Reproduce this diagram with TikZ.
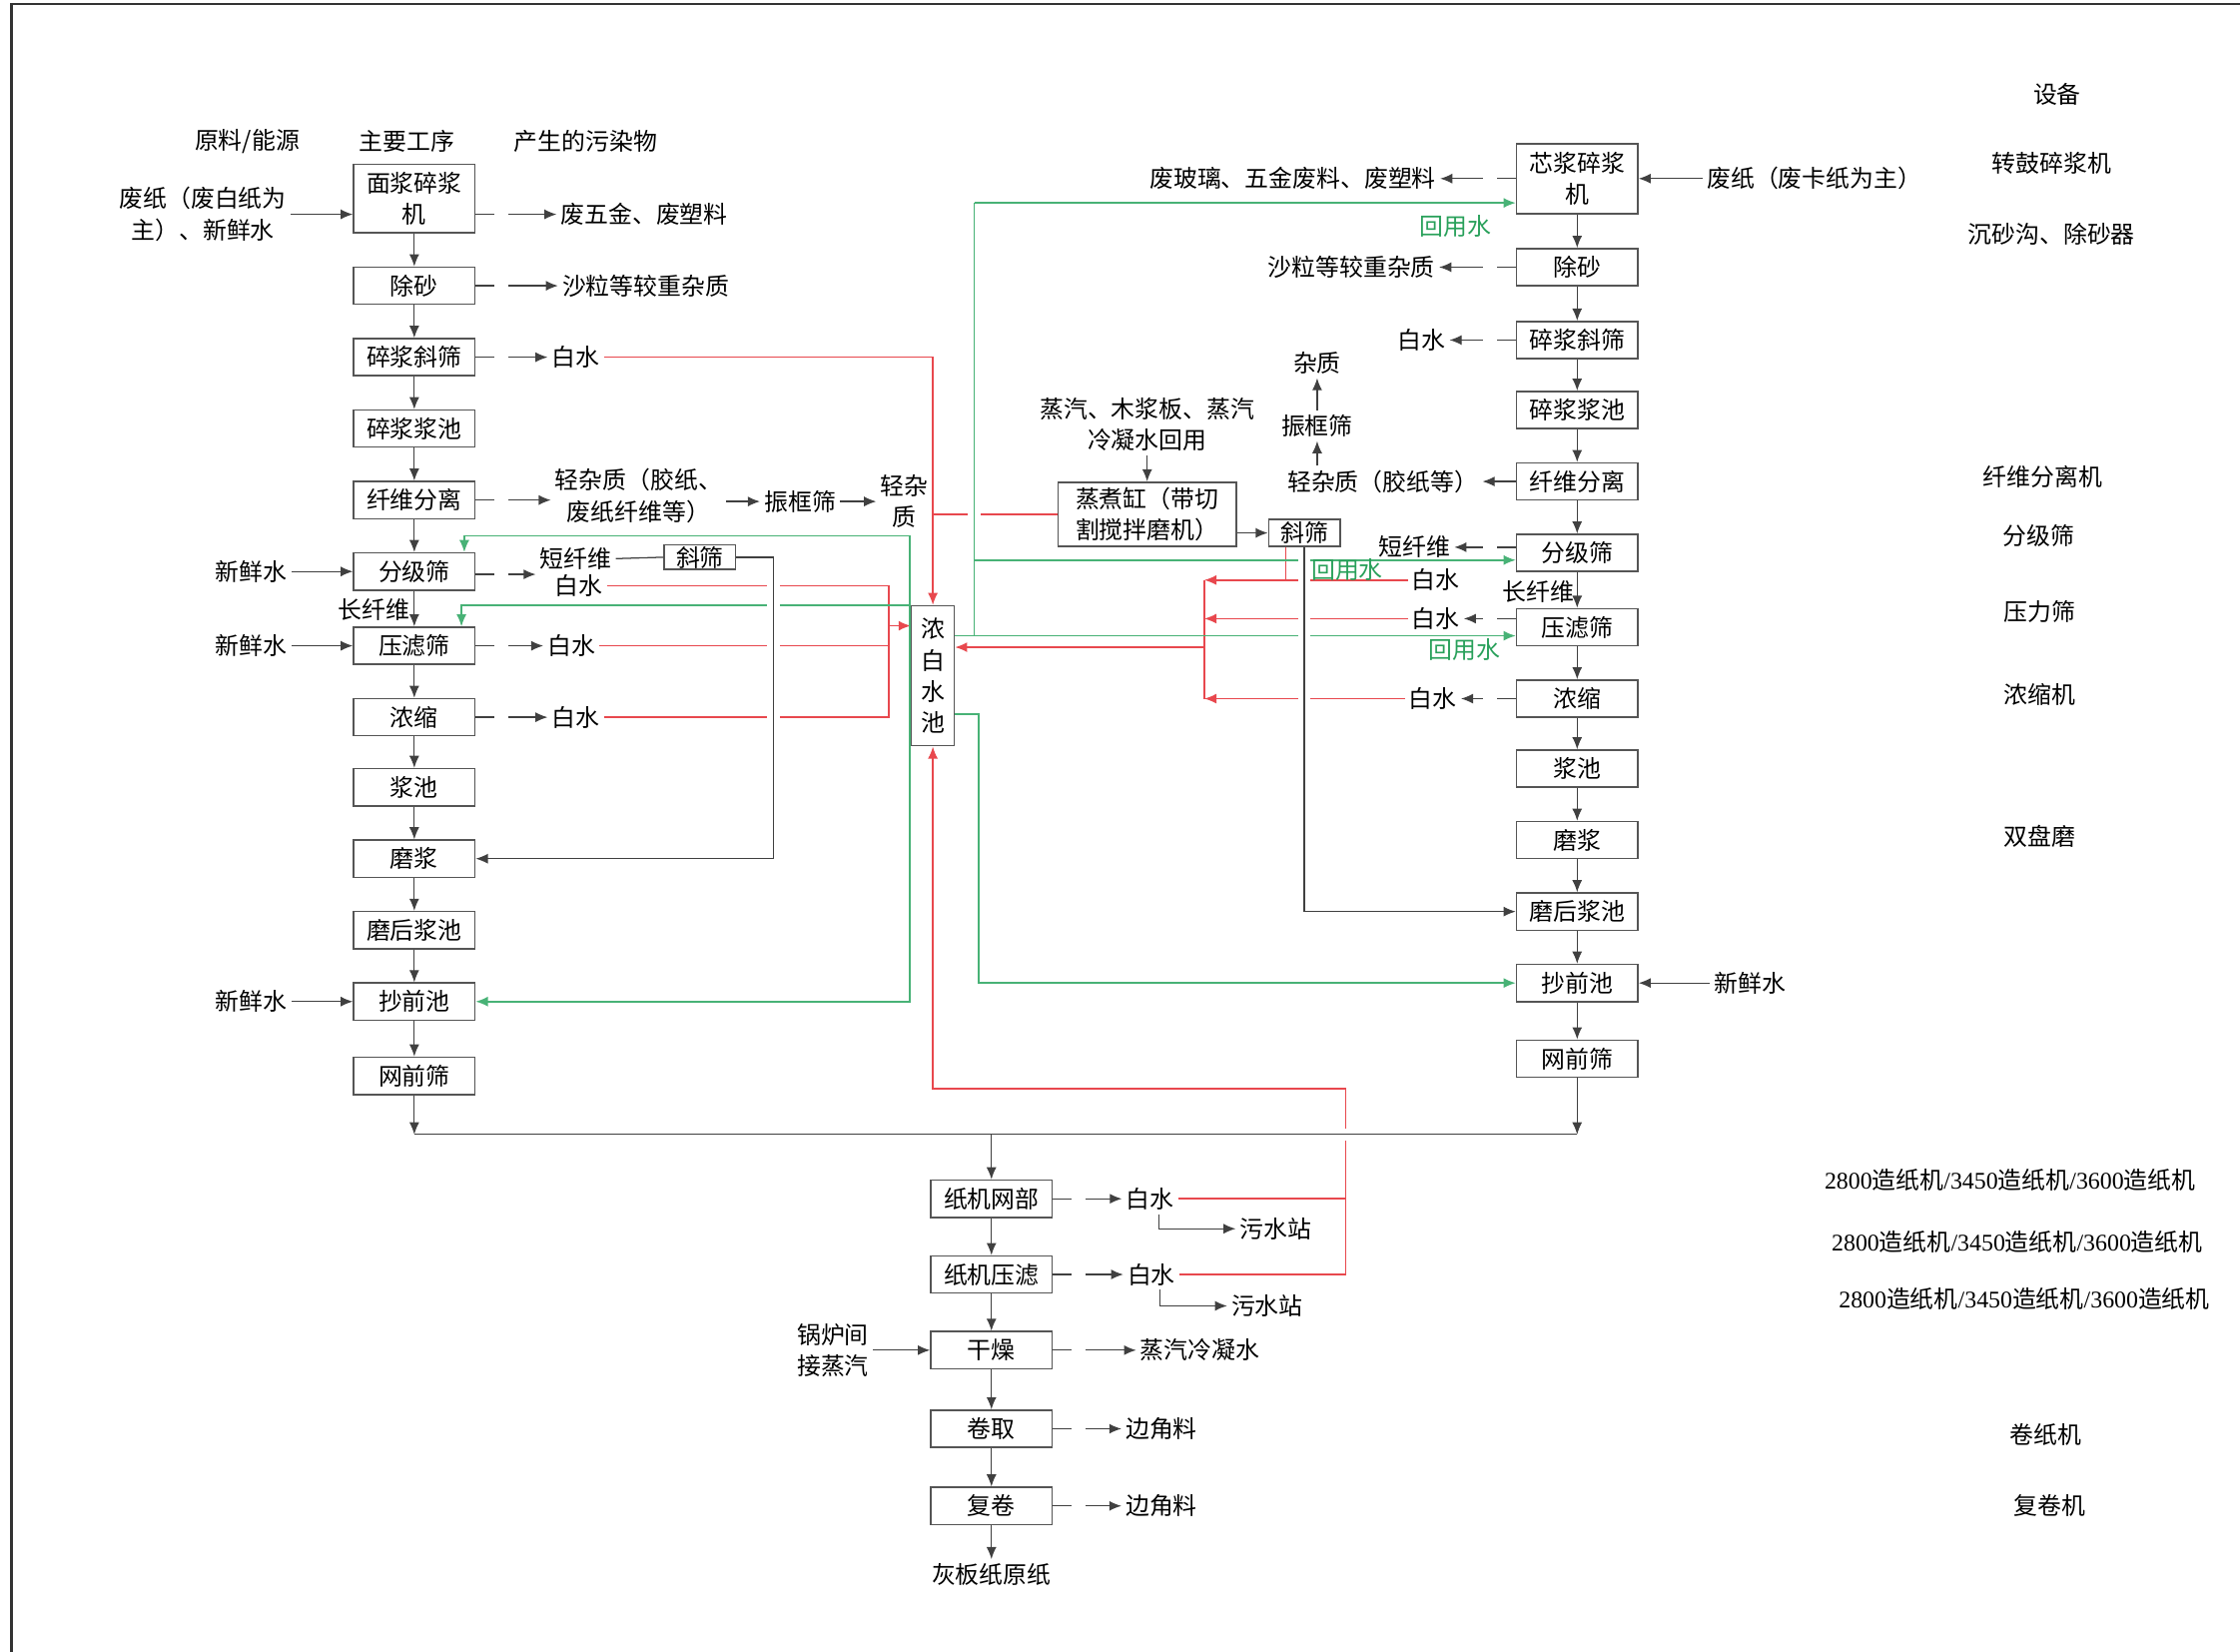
\documentclass[tikz,border=0pt]{standalone}
\usepackage{fontspec}
\setmainfont{Noto Sans CJK SC}
\newfontfamily\numfont{Liberation Serif}
\usetikzlibrary{arrows.meta, calc}
\definecolor{linegray}{RGB}{64,64,64}
\definecolor{boxgray}{RGB}{85,85,85}
\definecolor{waterred}{RGB}{232,72,78}
\definecolor{reusegreen}{RGB}{72,178,118}
\definecolor{labelgreen}{RGB}{40,160,90}
\newcommand{\diagfont}{\fontsize{9.5}{12.5}\selectfont}
\tikzset{
  proc/.style={
    draw=boxgray,
    line width=0.6pt,
    fill=white,
    align=center,
    minimum width=1.7cm,
    minimum height=0.52cm,
    inner sep=1pt,
    font=\diagfont
  },
  tag/.style={inner sep=1.5pt, align=center, font=\diagfont},
  reuse/.style={tag, text=labelgreen},
  line/.style={draw=linegray, line width=0.5pt},
  flow/.style={line, -{Latex[length=1.7mm,width=1.4mm]}},
  waste/.style={flow, dash pattern=on 0.26cm off 0.2cm on 3cm},
  redline/.style={draw=waterred, line width=0.6pt},
  redflow/.style={redline, -{Latex[length=1.7mm,width=1.4mm]}},
  greenline/.style={draw=reusegreen, line width=0.6pt},
  greenflow/.style={greenline, -{Latex[length=1.7mm,width=1.4mm]}},
  jump/.style={preaction={draw=white, line width=5pt, -}}
}

\begin{document}
\begin{tikzpicture}[x=0.02cm, y=-0.02cm]
  \useasboundingbox (0,0) rectangle (1568,1156);
  \draw[draw=black!80, line width=0.9pt] (8,1156) -- (8,3) -- (1568,3);

  % column heads
  \node[tag] (headIn) at (173,99) {原料/能源};
  \node[tag] (headProc) at (285,99) {主要工序};
  \node[tag] (headOut) at (410,99) {产生的污染物};
  \node[tag] (headEq) at (1440,66) {设备};

  % face pulp line
  \node[proc, minimum height=0.96cm] (Lpulper) at (290,139) {面浆碎浆\\机};
  \node[proc] (Lsand) at (290,200) {除砂};
  \node[proc] (Lincl) at (290,250) {碎浆斜筛};
  \node[proc] (Lchest) at (290,300) {碎浆浆池};
  \node[proc] (Lsep) at (290,350) {纤维分离};
  \node[proc] (Lgrade) at (290,400) {分级筛};
  \node[proc] (Lpress) at (290,452) {压滤筛};
  \node[proc] (Lthick) at (290,502) {浓缩};
  \node[proc] (Lstock) at (290,551) {浆池};
  \node[proc] (Lrefine) at (290,601) {磨浆};
  \node[proc] (Lrefchest) at (290,651) {磨后浆池};
  \node[proc] (Lmix) at (290,701) {抄前池};
  \node[proc] (Lfan) at (290,753) {网前筛};

  % core pulp line
  \node[proc, minimum height=0.98cm] (Rpulper) at (1104,125) {芯浆碎浆\\机};
  \node[proc] (Rsand) at (1104,187) {除砂};
  \node[proc] (Rincl) at (1104,238) {碎浆斜筛};
  \node[proc] (Rchest) at (1104,287) {碎浆浆池};
  \node[proc] (Rsep) at (1104,337) {纤维分离};
  \node[proc] (Rgrade) at (1104,387) {分级筛};
  \node[proc] (Rpress) at (1104,439) {压滤筛};
  \node[proc] (Rthick) at (1104,489) {浓缩};
  \node[proc] (Rstock) at (1104,538) {浆池};
  \node[proc] (Rrefine) at (1104,588) {磨浆};
  \node[proc] (Rrefchest) at (1104,638) {磨后浆池};
  \node[proc] (Rmix) at (1104,688) {抄前池};
  \node[proc] (Rfan) at (1104,741) {网前筛};

  % white water pool, cooker, slope screens
  \node[proc, minimum width=0.6cm, minimum height=1.96cm, inner sep=0pt] (pool) at (653,473) {浓\\白\\水\\池};
  \node[proc, minimum width=2.5cm, minimum height=0.9cm, align=left] (cooker) at (803,360) {蒸煮缸（带切\\割搅拌磨机）};
  \node[proc, minimum width=1cm, minimum height=0.38cm, inner sep=0pt] (Rslope) at (913,373) {斜筛};
  \node[proc, minimum width=1cm, minimum height=0.34cm, inner sep=0pt] (Lslope) at (490,390) {斜筛};

  % paper machine
  \node[proc] (wire) at (694,839) {纸机网部};
  \node[proc] (pressp) at (694,892) {纸机压滤};
  \node[proc] (dryer) at (694,945) {干燥};
  \node[proc] (reel) at (694,1000) {卷取};
  \node[proc] (rewind) at (694,1054) {复卷};
  \node[tag] (product) at (694,1102) {灰板纸原纸};

  % inputs
  \node[tag] (inL) at (142,150) {废纸（废白纸为\\主）、新鲜水};
  \node[tag] (water1) at (176,400) {新鲜水};
  \node[tag] (water2) at (176,452) {新鲜水};
  \node[tag] (water3) at (176,701) {新鲜水};
  \node[tag] (inR) at (1270,125) {废纸（废卡纸为主）};
  \node[tag] (water4) at (1225,688) {新鲜水};
  \node[tag] (boiler) at (583,945) {锅炉间\\接蒸汽};
  \node[tag] (steam) at (803,297) {蒸汽、木浆板、蒸汽\\冷凝水回用};

  % outputs of face pulp line
  \node[tag] (w1) at (451,150) {废五金、废塑料};
  \node[tag] (w2) at (452,200) {沙粒等较重杂质};
  \node[tag] (ww1) at (403,250) {白水};
  \node[tag] (w3) at (447,347) {轻杂质（胶纸、\\废纸纤维等）};
  \node[tag] (vib1) at (560,351) {振框筛};
  \node[tag] (lt1) at (633,351) {轻杂\\质};
  \node[tag] (sf1) at (403,391) {短纤维};
  \node[tag] (ww2) at (405,410) {白水};
  \node[tag] (lf1) at (262,427) {长纤维};
  \node[tag] (ww3) at (400,452) {白水};
  \node[tag] (ww4) at (403,502) {白水};
  \coordinate (gradeOut) at (375,402);

  % outputs of core pulp line
  \node[tag] (rw1) at (905,125) {废玻璃、五金废料、废塑料};
  \node[tag] (rw2) at (946,187) {沙粒等较重杂质};
  \node[tag] (rww1) at (995,238) {白水};
  \node[tag] (rw3) at (968,337) {轻杂质（胶纸等）};
  \node[tag] (vib2) at (922,298) {振框筛};
  \node[tag] (imp) at (922,254) {杂质};
  \node[tag] (rsf) at (990,383) {短纤维};
  \node[tag] (rww2) at (1005,406) {白水};
  \node[tag] (rlf) at (1077,414) {长纤维};
  \node[tag] (rww3) at (1005,433) {白水};
  \node[tag] (rww4) at (1003,489) {白水};

  % outputs of paper machine
  \node[tag] (bw1) at (805,839) {白水};
  \node[tag] (st1) at (893,860) {污水站};
  \node[tag] (bw2) at (806,892) {白水};
  \node[tag] (st2) at (887,914) {污水站};
  \node[tag] (cond) at (840,945) {蒸汽冷凝水};
  \node[tag] (edge1) at (813,1000) {边角料};
  \node[tag] (edge2) at (813,1054) {边角料};

  % equipment
  \node[tag] (eq1) at (1436,114) {转鼓碎浆机};
  \node[tag] (eq2) at (1436,164) {沉砂沟、除砂器};
  \node[tag] (eq3) at (1430,334) {纤维分离机};
  \node[tag] (eq4) at (1427,375) {分级筛};
  \node[tag] (eq5) at (1428,428) {压力筛};
  \node[tag] (eq6) at (1428,486) {浓缩机};
  \node[tag] (eq7) at (1428,585) {双盘磨};
  \node[tag] (eq8) at (1407,826) {{\numfont 2800}造纸机{\numfont /3450}造纸机{\numfont /3600}造纸机};
  \node[tag] (eq9) at (1412,869) {{\numfont 2800}造纸机{\numfont /3450}造纸机{\numfont /3600}造纸机};
  \node[tag] (eq10) at (1417,909) {{\numfont 2800}造纸机{\numfont /3450}造纸机{\numfont /3600}造纸机};
  \node[tag] (eq11) at (1432,1004) {卷纸机};
  \node[tag] (eq12) at (1435,1054) {复卷机};

  % main flow
  \draw[flow] (Lpulper) -- (Lsand);
  \draw[flow] (Lsand) -- (Lincl);
  \draw[flow] (Lincl) -- (Lchest);
  \draw[flow] (Lchest) -- (Lsep);
  \draw[flow] (Lsep) -- (Lgrade);
  \draw[flow] (Lgrade) -- (Lpress);
  \draw[flow] (Lpress) -- (Lthick);
  \draw[flow] (Lthick) -- (Lstock);
  \draw[flow] (Lstock) -- (Lrefine);
  \draw[flow] (Lrefine) -- (Lrefchest);
  \draw[flow] (Lrefchest) -- (Lmix);
  \draw[flow] (Lmix) -- (Lfan);
  \draw[flow] (Rpulper) -- (Rsand);
  \draw[flow] (Rsand) -- (Rincl);
  \draw[flow] (Rincl) -- (Rchest);
  \draw[flow] (Rchest) -- (Rsep);
  \draw[flow] (Rsep) -- (Rgrade);
  \draw[flow] (Rgrade) -- (Rpress);
  \draw[flow] (Rpress) -- (Rthick);
  \draw[flow] (Rthick) -- (Rstock);
  \draw[flow] (Rstock) -- (Rrefine);
  \draw[flow] (Rrefine) -- (Rrefchest);
  \draw[flow] (Rrefchest) -- (Rmix);
  \draw[flow] (Rmix) -- (Rfan);
  \draw[flow] (wire) -- (pressp);
  \draw[flow] (pressp) -- (dryer);
  \draw[flow] (dryer) -- (reel);
  \draw[flow] (reel) -- (rewind);
  \draw[flow] (rewind) -- (product);

  % inputs
  \draw[flow] (inL) -- (Lpulper.west |- inL);
  \draw[flow] (water1) -- (Lgrade);
  \draw[flow] (water2) -- (Lpress);
  \draw[flow] (water3) -- (Lmix);
  \draw[flow] (inR) -- (Rpulper);
  \draw[flow] (water4) -- (Rmix);
  \draw[flow] (boiler) -- (dryer);
  \draw[flow] (steam) -- (cooker);

  % wastes
  \draw[waste] (Lpulper.east |- w1) -- (w1);
  \draw[waste] (Lsand) -- (w2);
  \draw[waste] (Lincl) -- (ww1);
  \draw[waste] (Lsep.east) -- (Lsep.east -| w3.west);
  \draw[flow] (w3.east |- vib1.west) -- (vib1.west);
  \draw[flow] (vib1.east) -- (vib1.east -| lt1.west);
  \draw[waste] (Lgrade.east |- gradeOut) -- (gradeOut);
  \draw[line] (sf1.east) -- (Lslope.west);
  \draw[waste] (Lpress) -- (ww3);
  \draw[waste] (Lthick) -- (ww4);
  \draw[waste] (Rpulper) -- (rw1);
  \draw[waste] (Rsand) -- (rw2);
  \draw[waste] (Rincl) -- (rww1);
  \draw[flow] (Rsep) -- (rw3);
  \draw[flow] (rw3.north -| vib2) -- (vib2);
  \draw[flow] (vib2) -- (imp);
  \draw[waste] (Rgrade.west |- rsf.east) -- (rsf.east);
  \draw[waste] (Rpress.west |- rww3.east) -- (rww3.east);
  \draw[waste] (Rthick) -- (rww4);
  \draw[flow] (cooker.east |- Rslope.west) -- (Rslope.west);
  \draw[waste] (wire) -- (bw1);
  \draw[waste] (pressp) -- (bw2);
  \draw[flow] ([xshift=0.12cm]bw1.south) |- (st1.west);
  \draw[flow] ([xshift=0.12cm]bw2.south) |- (st2.west);
  \draw[waste] (dryer) -- (cond);
  \draw[waste] (reel) -- (edge1);
  \draw[waste] (rewind) -- (edge2);

  % white water back to the pool
  \coordinate (rjL) at (622,438);
  \coordinate (rjR) at (843,453);
  \coordinate (rjB) at (942,762);
  \coordinate (RslopeOut) at ([xshift=-0.26cm]Rslope.south);
  \draw[redflow] (ww1.east) -| (pool.north);
  \draw[redline] (cooker.west) -- (cooker.west -| pool.north);
  \draw[redline] (ww2.east) -| (rjL) |- (ww4.east);
  \draw[redline] (ww3.east) -- (ww3.east -| rjL);
  \draw[redflow] (rjL) -- (rjL -| pool.west);
  \draw[redflow] (rww2.west) -- (rww2.west -| rjR);
  \draw[redflow] (rww3.west) -- (rww3.west -| rjR);
  \draw[redflow] (rww4.west) -- (rww4.west -| rjR);
  \draw[redline] (rww2.west -| rjR) -- (rww4.west -| rjR);
  \draw[redflow] (rjR) -- (rjR -| pool.east);
  \draw[redline] (RslopeOut) -- (RslopeOut |- rww2.west);
  \draw[redflow] (bw1.east) -| (rjB) -| (pool.south);
  \draw[redline] (bw2.east) -| (bw1.east -| rjB);

  % reused water from the pool
  \coordinate (gL) at (637,375);
  \coordinate (LgradeIn) at ([xshift=-0.16cm]Lgrade.north east);
  \coordinate (LpressIn) at ([xshift=-0.2cm]Lpress.north east);
  \draw[greenflow] (gL) -| (LgradeIn);
  \draw[greenflow] (pool.north west) -| (LpressIn);
  \draw[greenflow] (gL) |- (Lmix.east);
  \coordinate (gR) at (682,142);
  \coordinate (gRm) at (682,392);
  \coordinate (gRb) at (682,445);
  \coordinate (gRl) at (685,500);
  \draw[greenline, jump] (gR) -- (gRb) -- (gRb -| pool.east);
  \draw[greenflow] (gR) -- (gR -| Rpulper.west);
  \draw[greenflow] (gRm) -- (gRm -| Rgrade.west);
  \draw[greenflow] (gRb) -- (gRb -| Rpress.west);
  \draw[greenflow] (gRl -| pool.east) -- (gRl) |- (Rmix.west);

  % short fibre to refining
  \draw[flow, jump] (Lslope.east) -- ++(26,0) |- (Lrefine.east);
  \draw[flow, jump] (Rslope.south) |- (Rrefchest.west);

  % stock to paper machine
  \coordinate (busL) at (290,794);
  \coordinate (busR) at (1104,794);
  \draw[line, jump] (busL) -- (busR);
  \draw[flow] (Lfan) -- (busL);
  \draw[flow] (Rfan) -- (busR);
  \draw[flow] (busL -| wire) -- (wire);

  \node[reuse] (ru1) at (1019,158) {回用水};
  \node[reuse] (ru2) at (943,399) {回用水};
  \node[reuse] (ru3) at (1025,455) {回用水};
\end{tikzpicture}
\end{document}
